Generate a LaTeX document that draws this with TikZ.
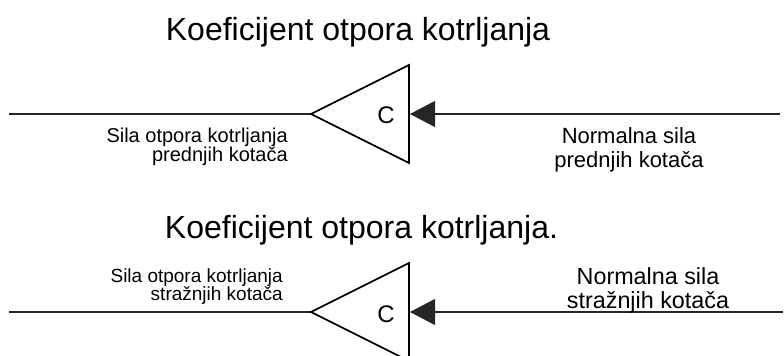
\documentclass[tikz,border=0pt]{standalone}
\usepackage{fontspec}
\setmainfont{Liberation Sans}
\usetikzlibrary{arrows.meta}
\begin{document}
\begin{tikzpicture}[x=0.75pt,y=-0.75pt,
  wire/.style={line width=0.8pt, draw=black!85},
  amp/.style={line width=1.2pt, draw=black, line join=miter},
  tipend/.style={-{Triangle[length=18.75pt,width=19.5pt]}},
  lbl/.style={inner sep=0pt, text=black}]
\useasboundingbox (0,0) rectangle (784,356);
\clip (0,0) rectangle (784,356);
% ---------- top block ----------
\node[lbl, anchor=base, font=\fontsize{24pt}{28pt}\selectfont] (title1) at (358,41) {Koeficijent otpora kotrljanja};
\coordinate (l1) at (9,114);
\coordinate (a1) at (311,114);
\coordinate (t1) at (409,65);
\coordinate (b1) at (409,163);
\coordinate (m1) at (410,114);
\coordinate (r1) at (780,114);
\draw[wire] (l1) -- (a1);
\draw[amp] (a1) -- (t1) -- (b1) -- cycle;
\draw[wire, tipend] (r1) -- (m1);
\node[lbl, anchor=base, font=\fontsize{18pt}{20pt}\selectfont] (c1) at (386,123) {C};
\node[lbl, anchor=north east, align=right, font=\fontsize{15pt}{14.25pt}\selectfont] (in1) at (288,127.4) {Sila otpora kotrljanja\\prednjih kotača};
\node[lbl, anchor=north, align=center, font=\fontsize{16.5pt}{18pt}\selectfont] (out1) at (629,127) {Normalna sila\\prednjih kotača};
% ---------- bottom block ----------
\node[lbl, anchor=base, font=\fontsize{24pt}{28pt}\selectfont] (title2) at (361.5,238) {Koeficijent otpora kotrljanja.};
\coordinate (l2) at (9,312);
\coordinate (a2) at (311,312);
\coordinate (t2) at (409,263);
\coordinate (b2) at (409,361);
\coordinate (m2) at (410,312);
\coordinate (r2) at (783,312);
\draw[wire] (l2) -- (a2);
\draw[amp] (a2) -- (t2) -- (b2) -- cycle;
\draw[wire, tipend] (r2) -- (m2);
\node[lbl, anchor=base, font=\fontsize{18pt}{20pt}\selectfont] (c2) at (386,322) {C};
\node[lbl, anchor=north east, align=right, font=\fontsize{14.25pt}{13.5pt}\selectfont] (in2) at (283,268) {Sila otpora kotrljanja\\stražnjih kotača};
\node[lbl, anchor=north, align=center, font=\fontsize{17.5pt}{17.5pt}\selectfont] (out2) at (648,267.5) {Normalna sila\\stražnjih kotača};
\end{tikzpicture}
\end{document}
